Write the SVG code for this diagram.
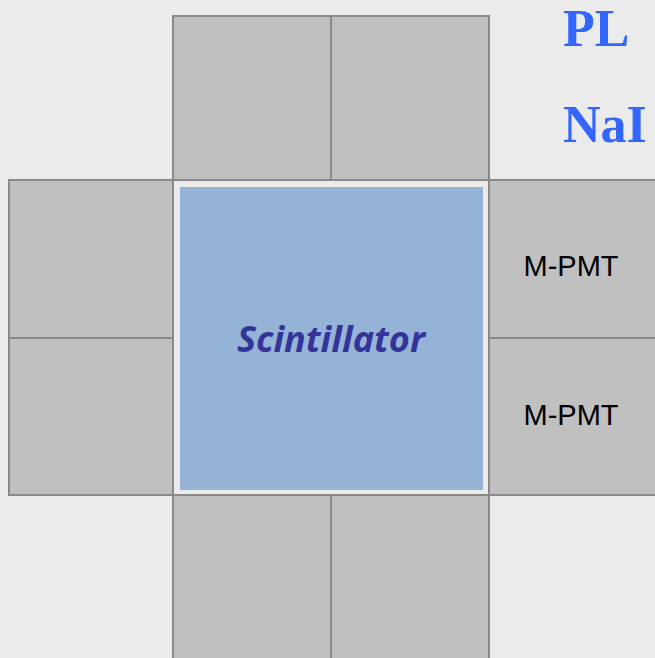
<svg xmlns="http://www.w3.org/2000/svg" width="655" height="658" viewBox="0 0 655 658">
  <style>
    .pmt { fill: #c0c0c0; stroke: #898989; stroke-width: 2; }
    .lbl { font-family: "Liberation Sans", Arial, sans-serif; font-size: 29px; fill: #000; text-anchor: middle; }
    .mat { font-family: "Liberation Serif", "Times New Roman", serif; font-weight: bold; font-size: 52px; fill: #3366ff; }
  </style>
  <rect x="0" y="0" width="655" height="658" fill="#ebebeb"/>

  <!-- top photomultipliers -->
  <g id="pmt-top-left"><rect class="pmt" x="173" y="16" width="158" height="164"/></g>
  <g id="pmt-top-right"><rect class="pmt" x="331" y="16" width="158" height="164"/></g>

  <!-- left photomultipliers -->
  <g id="pmt-left-top"><rect class="pmt" x="9" y="180" width="164" height="158"/></g>
  <g id="pmt-left-bottom"><rect class="pmt" x="9" y="338" width="164" height="157"/></g>

  <!-- right photomultipliers -->
  <g id="pmt-right-top">
    <rect class="pmt" x="489" y="180" width="168" height="158"/>
    <text class="lbl" x="571" y="276">M-PMT</text>
  </g>
  <g id="pmt-right-bottom">
    <rect class="pmt" x="489" y="338" width="168" height="157"/>
    <text class="lbl" x="571" y="425">M-PMT</text>
  </g>

  <!-- bottom photomultipliers -->
  <g id="pmt-bottom-left"><rect class="pmt" x="173" y="495" width="158" height="170"/></g>
  <g id="pmt-bottom-right"><rect class="pmt" x="331" y="495" width="158" height="170"/></g>

  <!-- central crystal -->
  <g id="scintillator">
    <rect x="174" y="181" width="314" height="313" fill="#ebebeb"/>
    <rect x="180" y="187" width="303" height="303" fill="#95b3d7"/>
    <text x="331" y="352" font-family="'Open Sans', sans-serif" font-weight="bold" font-style="italic" font-size="36" fill="#333399" text-anchor="middle">Scintillator</text>
  </g>

  <!-- material labels -->
  <g id="label-pl"><text class="mat" x="563" y="46">PL</text></g>
  <g id="label-nai"><text class="mat" x="563" y="142">NaI</text></g>
</svg>
